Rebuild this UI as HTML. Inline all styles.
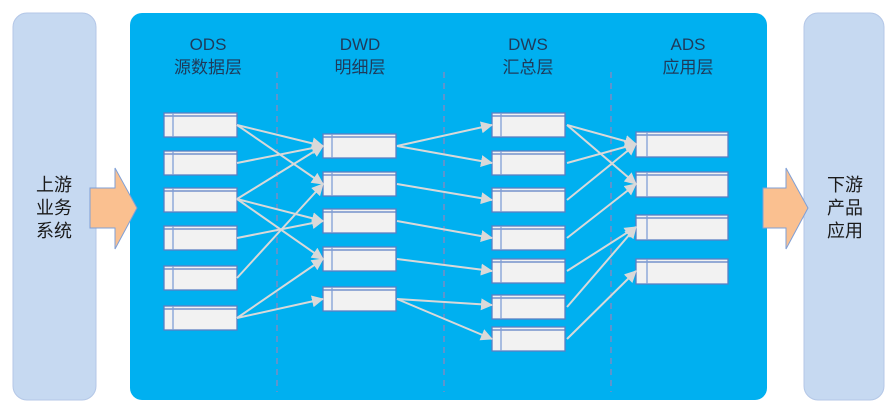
<!DOCTYPE html>
<html><head><meta charset="utf-8"><style>
body{margin:0;background:#fff;width:896px;height:412px;overflow:hidden}
svg text{font-family:"Liberation Sans","Noto Sans CJK SC",sans-serif}
</style></head><body>
<svg width="896" height="412" viewBox="0 0 896 412" xmlns="http://www.w3.org/2000/svg">
<defs>
<marker id="a" markerWidth="8" markerHeight="8" refX="7" refY="4" orient="auto" markerUnits="userSpaceOnUse" viewBox="0 0 8 8">
<path d="M0,0 L8,4 L0,8 z" fill="#d9d9d9"/></marker>
<marker id="b" markerWidth="12" markerHeight="12" refX="11" refY="6" orient="auto" markerUnits="userSpaceOnUse" viewBox="0 0 12 12">
<path d="M0,0 L12,6 L0,12 z" fill="#d9d9d9"/></marker>
<g id="bx"><rect x="0" y="0" width="73" height="24" fill="#f2f2f2" stroke="#5b7fc4" stroke-width="1.3"/><line x1="0" y1="3" x2="73" y2="3" stroke="#5b7fc4" stroke-width="1.3"/><line x1="9" y1="0" x2="9" y2="24" stroke="#7f9fd6" stroke-width="1.3"/></g>
<g id="bx2"><rect x="0" y="0" width="92" height="25" fill="#f2f2f2" stroke="#5b7fc4" stroke-width="1.3"/><line x1="0" y1="3" x2="92" y2="3" stroke="#5b7fc4" stroke-width="1.3"/><line x1="11" y1="0" x2="11" y2="25" stroke="#7f9fd6" stroke-width="1.3"/></g>
</defs>
<rect x="13" y="13" width="83" height="387" rx="14" fill="#c6d9f1" stroke="#b4c7e7"/>
<rect x="804" y="13" width="80" height="387" rx="14" fill="#c6d9f1" stroke="#b4c7e7"/>
<rect x="130" y="13" width="637" height="387" rx="12" fill="#00b0f0"/>
<g font-size="18" fill="#1a1a1a" text-anchor="middle">
<text x="54" y="191">上游</text><text x="54" y="214">业务</text><text x="54" y="237">系统</text>
<text x="845" y="191">下游</text><text x="845" y="214">产品</text><text x="845" y="237">应用</text>
</g>
<path d="M90,188 H115 V168 L137,208 L115,249 V228 H90 Z" fill="#fac090" stroke="#7f9fd6"/>
<path d="M763,188 H786 V168 L808,208 L786,249 V228 H763 Z" fill="#fac090" stroke="#7f9fd6"/>
<g font-size="17" fill="#1f3a5a" text-anchor="middle">
<text x="208" y="50">ODS</text><text x="208" y="73">源数据层</text>
<text x="360" y="50">DWD</text><text x="360" y="73">明细层</text>
<text x="528" y="50">DWS</text><text x="528" y="73">汇总层</text>
<text x="688" y="50">ADS</text><text x="688" y="73">应用层</text>
</g>
<g stroke="#7a8cc2" stroke-width="1.5" stroke-dasharray="6,5">
<line x1="277" y1="72" x2="277" y2="392"/><line x1="444" y1="72" x2="444" y2="392"/><line x1="611" y1="72" x2="611" y2="392"/>
</g>
<g>
<use href="#bx" x="164" y="113"/><use href="#bx" x="164" y="151"/><use href="#bx" x="164" y="188"/><use href="#bx" x="164" y="226"/><use href="#bx" x="164" y="266"/><use href="#bx" x="164" y="306"/>
<use href="#bx" x="323" y="134"/><use href="#bx" x="323" y="172"/><use href="#bx" x="323" y="209"/><use href="#bx" x="323" y="247"/><use href="#bx" x="323" y="287"/>
<use href="#bx" x="492" y="113"/><use href="#bx" x="492" y="151"/><use href="#bx" x="492" y="188"/><use href="#bx" x="492" y="226"/><use href="#bx" x="492" y="259"/><use href="#bx" x="492" y="295"/><use href="#bx" x="492" y="327"/>
<use href="#bx2" x="636" y="132"/><use href="#bx2" x="636" y="172"/><use href="#bx2" x="636" y="215"/><use href="#bx2" x="636" y="259"/>
</g>
<g stroke="#d9d9d9" stroke-width="2" marker-end="url(#b)" fill="none">
<line x1="237" y1="125" x2="323" y2="146"/><line x1="237" y1="125" x2="323" y2="184"/>
<line x1="237" y1="163" x2="323" y2="146"/>
<line x1="237" y1="199" x2="323" y2="146"/><line x1="237" y1="199" x2="323" y2="221"/><line x1="237" y1="199" x2="323" y2="259"/>
<line x1="237" y1="238" x2="323" y2="221"/>
<line x1="237" y1="278" x2="323" y2="184"/>
<line x1="237" y1="318" x2="323" y2="259"/><line x1="237" y1="318" x2="323" y2="299"/>
<line x1="397" y1="146" x2="492" y2="125"/><line x1="397" y1="146" x2="492" y2="163"/>
<line x1="397" y1="184" x2="492" y2="200"/><line x1="397" y1="221" x2="492" y2="238"/>
<line x1="397" y1="259" x2="492" y2="271"/>
<line x1="397" y1="299" x2="492" y2="305"/><line x1="397" y1="299" x2="492" y2="339"/>
<line x1="567" y1="125" x2="636" y2="144"/><line x1="567" y1="125" x2="636" y2="184"/>
<line x1="567" y1="163" x2="636" y2="144"/><line x1="567" y1="200" x2="636" y2="144"/>
<line x1="567" y1="238" x2="636" y2="184"/>
<line x1="567" y1="271" x2="636" y2="227"/><line x1="567" y1="307" x2="636" y2="227"/>
<line x1="567" y1="339" x2="636" y2="271"/>
</g>
</svg>
</body></html>
